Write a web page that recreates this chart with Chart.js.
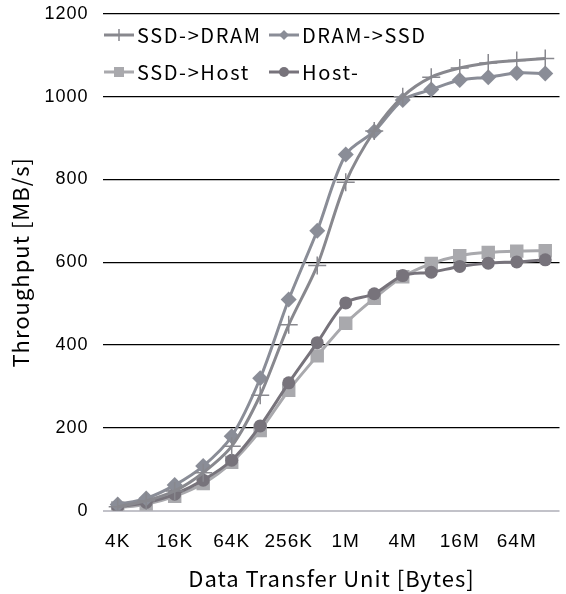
<!DOCTYPE html>
<html>
<head>
<meta charset="utf-8">
<script src="https://cdn.jsdelivr.net/npm/chart.js@4/dist/chart.umd.min.js"></script>
<style>
html,body{margin:0;padding:0;background:#fff;overflow:hidden;}
#wrap{position:absolute;left:0;top:-12px;width:570px;height:606px;}
</style>
</head>
<body>
<div id="wrap"><canvas id="c"></canvas></div>
<script>
const categories = ['4K','8K','16K','32K','64K','128K','256K','512K','1M','2M','4M','8M','16M','32M','64M','128M'];
const tickLabels = ['4K','','16K','','64K','','256K','','1M','','4M','','16M','','64M',''];
const ssdToDram = [10, 24, 48, 92, 156, 279, 449, 592, 793, 917, 1000, 1047, 1069, 1081, 1087, 1092];
const dramToSsd = [15, 30, 62, 108, 180, 320, 510, 676, 860, 916, 992, 1017, 1040, 1047, 1057, 1056];
const ssdToHost = [7, 16, 35, 66, 117, 194, 291, 374, 453, 513, 565, 597, 616, 624, 627, 628];
const hostTo = [10, 20, 40, 74, 122, 205, 309, 406, 502, 524, 568, 576, 590, 598, 601, 606];
const seriesNames = ['SSD->DRAM','DRAM->SSD','SSD->Host','Host-'];

const C1 = '#88888e', C2 = '#8a8d97', C3 = '#a9a9ad', C4 = '#77737b';

function drawMarker(ctx, style, x, y, r, color) {
  ctx.save();
  ctx.fillStyle = color; ctx.strokeStyle = color;
  ctx.beginPath();
  if (style === 'cross') {
    ctx.lineWidth = 1.5;
    ctx.moveTo(x - r, y); ctx.lineTo(x + r, y);
    ctx.moveTo(x, y - r); ctx.lineTo(x, y + r);
    ctx.stroke();
  } else if (style === 'rectRot') {
    ctx.moveTo(x, y - r); ctx.lineTo(x + r, y); ctx.lineTo(x, y + r); ctx.lineTo(x - r, y); ctx.closePath();
    ctx.fill();
  } else if (style === 'rect') {
    ctx.rect(x - r, y - r, 2 * r, 2 * r); ctx.fill();
  } else {
    ctx.arc(x, y, r, 0, Math.PI * 2); ctx.fill();
  }
  ctx.restore();
}

const spacingPlugin = {
  id: 'spacing',
  beforeDraw(chart) { chart.ctx.letterSpacing = '1px'; }
};

// legend positions are in page pixels; the canvas is shifted up by 12px
const legendPlugin = {
  id: 'customLegend',
  afterDraw(chart) {
    const ctx = chart.ctx;
    const off = 12;
    const items = [
      {ds: 0, x: 104, y: 35 + off, mr: 6},
      {ds: 1, x: 269, y: 35 + off, mr: 5},
      {ds: 2, x: 104, y: 72 + off, mr: 5},
      {ds: 3, x: 269, y: 72 + off, mr: 5}
    ];
    items.forEach(it => {
      const d = chart.data.datasets[it.ds];
      ctx.save();
      ctx.strokeStyle = d.borderColor; ctx.lineWidth = 3;
      ctx.beginPath(); ctx.moveTo(it.x, it.y); ctx.lineTo(it.x + 30, it.y); ctx.stroke();
      ctx.restore();
      drawMarker(ctx, d.pointStyle, it.x + 15, it.y, it.mr, d.borderColor);
      ctx.save();
      ctx.fillStyle = '#000';
      ctx.font = '20px "Noto Sans CJK JP"';
      ctx.letterSpacing = '1.6px';
      ctx.textBaseline = 'middle';
      ctx.textAlign = 'left';
      ctx.fillText(d.label, it.x + 33, it.y);
      ctx.restore();
    });
  }
};

new Chart(document.getElementById('c'), {
  type: 'line',
  data: {
    labels: categories,
    datasets: [
      {label: seriesNames[0], data: ssdToDram, borderColor: C1, backgroundColor: C1, borderWidth: 3,
       pointStyle: 'cross', pointRadius: 9, pointBorderWidth: 1.5, order: 1},
      {label: seriesNames[1], data: dramToSsd, borderColor: C2, backgroundColor: C2, borderWidth: 3,
       pointStyle: 'rectRot', pointRadius: 8, pointBorderWidth: 0, order: 2},
      {label: seriesNames[2], data: ssdToHost, borderColor: C3, backgroundColor: C3, borderWidth: 3,
       pointStyle: 'rect', pointRadius: 9.5, pointBorderWidth: 0, order: 4},
      {label: seriesNames[3], data: hostTo, borderColor: C4, backgroundColor: C4, borderWidth: 3,
       pointStyle: 'circle', pointRadius: 6.5, pointBorderWidth: 0, order: 3}
    ]
  },
  options: {
    responsive: true,
    maintainAspectRatio: false,
    animation: false,
    layout: {padding: {left: 7, right: 1, top: -18, bottom: 2}},
    elements: {line: {tension: 0.3}},
    plugins: {legend: {display: false}, tooltip: {enabled: false}},
    scales: {
      x: {
        offset: true,
        grid: {display: false},
        border: {display: false},
        ticks: {
          autoSkip: false, maxRotation: 0, color: '#000', padding: 12,
          font: {family: '"Liberation Sans", Arial, sans-serif', size: 19},
          callback: (v, i) => tickLabels[i]
        },
        title: {display: true, text: 'Data Transfer Unit [Bytes]', color: '#000',
          font: {family: '"Noto Sans CJK JP"', size: 22}, padding: {top: 0, bottom: 0}}
      },
      y: {
        min: 0, max: 1200,
        grid: {
          drawTicks: false,
          color: c => c.tick && c.tick.value === 0 ? '#c2c2c9' : '#000',
          lineWidth: c => c.tick && c.tick.value === 0 ? 2 : 1.3
        },
        border: {display: false},
        ticks: {stepSize: 200, color: '#000', padding: 15,
          font: {family: '"Liberation Sans", Arial, sans-serif', size: 18},
          callback: v => String(v)},
        title: {display: true, text: 'Throughput [MB/s]', color: '#000',
          font: {family: '"Noto Sans CJK JP"', size: 22}, padding: {top: 0, bottom: 0}}
      }
    }
  },
  plugins: [spacingPlugin, legendPlugin]
});
</script>
</body>
</html>
